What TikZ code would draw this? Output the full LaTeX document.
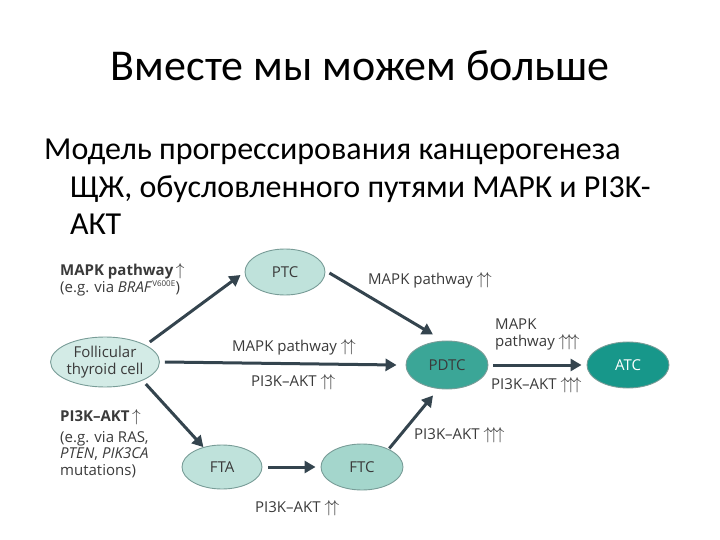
\documentclass[tikz,border=0pt]{standalone}
\usepackage{fontspec}
\setmainfont{Carlito}
\newfontfamily\dfont{Open Sans}
\usetikzlibrary{arrows.meta,shapes.geometric}
\definecolor{arr}{HTML}{34444E}
\definecolor{edge}{HTML}{789C97}
\definecolor{fA}{HTML}{D3EBE6}
\definecolor{fB}{HTML}{BFE2DB}
\definecolor{fC}{HTML}{A4D6CC}
\definecolor{fD}{HTML}{3BA697}
\definecolor{fE}{HTML}{17978A}
\definecolor{txt}{HTML}{3A3A3A}
\tikzset{
  cell/.style={ellipse,draw=edge,line width=0.9pt,minimum width=#1,minimum height=46pt,inner sep=0pt,font=\dfont\fontsize{15}{16}\selectfont,text=txt},
  flow/.style={draw=arr,line width=3pt,-{Triangle[length=11pt,width=12pt]}},
  lab/.style={font=\dfont\fontsize{15}{16.5}\selectfont,text=txt,inner sep=0pt,align=left},
}
\newcommand{\up}{{\fontsize{18}{18}\selectfont$\uparrow$}}
\begin{document}
\begin{tikzpicture}[x=1pt,y=-1pt]
\useasboundingbox (0,0) rectangle (720,540);
\node[anchor=base,font=\fontsize{44}{48}\selectfont,text=black] (title) at (360,81) {Вместе мы можем больше};
\node[anchor=base west,font=\fontsize{32}{36}\selectfont,inner sep=0pt,text=black] (l1) at (44,160) {Модель прогрессирования канцерогенеза};
\node[anchor=base west,font=\fontsize{32}{36}\selectfont,inner sep=0pt,text=black] (l2) at (70,197) {ЩЖ, обусловленного путями МАРК и PI3K-};
\node[anchor=base west,font=\fontsize{32}{36}\selectfont,inner sep=0pt,text=black] (l3) at (70,234) {АКТ};

\node[cell=100pt,minimum height=50pt,fill=fA,align=center,font=\dfont\fontsize{15}{17}\selectfont] (fol) at (105,362) {Follicular\\thyroid cell};
\node[cell=80pt,fill=fB] (ptc) at (285,272) {PTC};
\node[cell=82pt,minimum height=48pt,fill=fD] (pdtc) at (447,365) {PDTC};
\node[cell=82pt,fill=fE,text=white] (atc) at (628,365) {ATC};
\node[cell=80pt,minimum height=44pt,fill=fB] (fta) at (222,467) {FTA};
\node[cell=82pt,fill=fC] (ftc) at (362,467) {FTC};

\draw[flow] ([shift={(6,-2)}]fol.north east) -- ([shift={(-4,3)}]ptc.west);
\draw[flow] ([shift={(4,1)}]ptc.east) -- ([shift={(-14,-6)}]pdtc.north);
\draw[flow] ([xshift=5pt]fol.east) -- ([xshift=-9pt]pdtc.west);
\draw[flow] ([shift={(2,4)}]fol.south east) -- ([shift={(10,-4)}]fta.north west);
\draw[flow] ([xshift=6pt]fta.east) -- ([xshift=-5pt]ftc.west);
\draw[flow] ([shift={(-2,-2)}]ftc.north east) -- ([shift={(-14,6)}]pdtc.south);
\draw[flow] ([xshift=5pt]pdtc.east) -- ([xshift=-5pt]atc.west);

\node[lab,anchor=base west] (m1) at (60,275) {\textbf{MAPK pathway}\,\up};
\node[lab,anchor=base west] (m1b) at (60,292) {(e.g. via \textit{BRAF}\textsuperscript{\fontsize{8}{8}\selectfont V600E})};
\node[lab,anchor=base west] (p1) at (60,421) {\textbf{PI3K–AKT}\,\up};
\node[lab,anchor=north west] (p1b) at (60,431) {(e.g. via RAS,\\\textit{PTEN}, \textit{PIK3CA}\\mutations)};
\node[lab,anchor=base west] (m2) at (368,284) {MAPK pathway \up\!\up};
\node[lab,anchor=base west] (m3) at (232,351) {MAPK pathway \up\!\up};
\node[lab,anchor=base west] (p3) at (251,386) {PI3K–AKT \up\!\up};
\node[lab,anchor=south west] (m4) at (495,350) {MAPK\\pathway \up\!\up\!\up};
\node[lab,anchor=base west] (p4) at (491,389) {PI3K–AKT \up\!\up\!\up};
\node[lab,anchor=base west] (p5) at (414,439) {PI3K–AKT \up\!\up\!\up};
\node[lab,anchor=base west] (p6) at (255,512) {PI3K–AKT \up\!\up};
\end{tikzpicture}
\end{document}
